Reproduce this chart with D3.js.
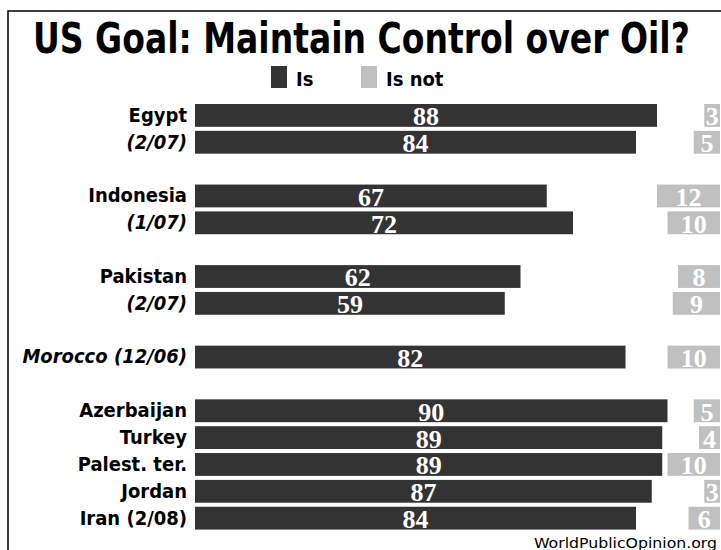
<!DOCTYPE html>
<html><head><meta charset="utf-8">
<script src="https://cdn.jsdelivr.net/npm/d3@7"></script>
<style>body{margin:0;background:#fff}svg{display:block}</style></head>
<body><svg id="c" width="721" height="550"></svg>
<script>
// ---- data ----
const titleText = "US Goal: Maintain Control over Oil?";
const sourceText = "WorldPublicOpinion.org";
const seriesNames = ["Is", "Is not"];
const categories = ["Egypt", "(2/07)", "Indonesia", "(1/07)", "Pakistan", "(2/07)",
  "Morocco (12/06)", "Azerbaijan", "Turkey", "Palest. ter.", "Jordan", "Iran (2/08)"];
const groups = [0, 0, 1, 1, 2, 2, 3, 4, 4, 4, 4, 4];
const isValues = [88, 84, 67, 72, 62, 59, 82, 90, 89, 89, 87, 84];
const isNotValues = [3, 5, 12, 10, 8, 9, 10, 5, 4, 10, 3, 6];

// ---- styling ----
const DARK = "#333333", GREY = "#c0c0c0";
const italicRows = new Set([1, 3, 5, 6]);
const labelFont = "'DejaVu Sans Condensed','Liberation Sans Narrow','DejaVu Sans',sans-serif";
const numFont = "'Liberation Serif','DejaVu Serif',serif";

const svg = d3.select("#c");

// frame
svg.append("path").attr("d", "M8,560 L8,11 L730,11")
  .attr("fill", "none").attr("stroke", "#000").attr("stroke-width", 1.5);

// title: measured, then horizontally fitted to the reference width
const title = svg.append("text").attr("x", 0).attr("y", 0)
  .style("font-family", labelFont).style("font-weight", "bold").style("font-size", "42px")
  .attr("fill", "#000").text(titleText);
const tw = title.node().getComputedTextLength();
title.attr("transform", `translate(33,53) scale(${657 / tw},1)`);

// slots (rows + gaps between groups)
const slots = [];
categories.forEach((c, i) => {
  if (i > 0 && groups[i] !== groups[i - 1]) slots.push("gap" + i);
  slots.push("row" + i);
});
const step = 26.85;
const y = d3.scaleBand().domain(slots).range([104, 104 + step * (slots.length - 0.15)])
  .paddingInner(0.15).paddingOuter(0);
const x = d3.scaleLinear().domain([0, 100]).range([195, 720]);

const rows = categories.map((c, i) => ({ i, label: c, is: isValues[i], not: isNotValues[i], key: "row" + i }));

const g = svg.append("g");
// dark bars
g.selectAll("rect.is").data(rows).join("rect").attr("class", "is")
  .attr("x", x(0)).attr("y", d => y(d.key))
  .attr("width", d => x(d.is) - x(0)).attr("height", y.bandwidth()).attr("fill", DARK);
// grey bars (right aligned)
g.selectAll("rect.not").data(rows).join("rect").attr("class", "not")
  .attr("x", d => x(100 - d.not)).attr("y", d => y(d.key))
  .attr("width", d => x(100) - x(100 - d.not)).attr("height", y.bandwidth()).attr("fill", GREY);

// numbers
g.selectAll("text.isv").data(rows).join("text").attr("class", "isv")
  .attr("x", d => (x(0) + x(d.is)) / 2).attr("y", d => y(d.key) + y.bandwidth() - 1.5)
  .attr("text-anchor", "middle").attr("fill", "#fff")
  .style("font-family", numFont).style("font-weight", "bold").style("font-size", "26px")
  .text(d => d.is);
g.selectAll("text.notv").data(rows).join("text").attr("class", "notv")
  .attr("x", d => (x(100 - d.not) + x(100)) / 2).attr("y", d => y(d.key) + y.bandwidth() - 1.5)
  .attr("text-anchor", "middle").attr("fill", "#fff")
  .style("font-family", numFont).style("font-weight", "bold").style("font-size", "26px")
  .text(d => d.not);

// category labels
g.selectAll("text.lab").data(rows).join("text").attr("class", "lab")
  .attr("x", 187).attr("y", d => y(d.key) + y.bandwidth() - 5)
  .attr("text-anchor", "end").attr("fill", "#000")
  .style("font-family", labelFont).style("font-weight", "bold").style("font-size", "20px")
  .style("font-style", d => italicRows.has(d.i) ? "italic" : "normal")
  .text(d => d.label);

// legend
const legend = [{ name: seriesNames[0], color: DARK, x: 271 }, { name: seriesNames[1], color: GREY, x: 361 }];
const lg = svg.append("g");
lg.selectAll("rect").data(legend).join("rect")
  .attr("x", d => d.x).attr("y", 66).attr("width", 16).attr("height", 22).attr("fill", d => d.color);
lg.selectAll("text").data(legend).join("text")
  .attr("x", d => d.x + 25).attr("y", 86)
  .style("font-family", labelFont).style("font-weight", "bold").style("font-size", "20px")
  .attr("fill", "#000").text(d => d.name);

// source
svg.append("text").attr("x", 717).attr("y", 547.5).attr("text-anchor", "end")
  .attr("textLength", 183).attr("lengthAdjust", "spacingAndGlyphs")
  .style("font-family", "'DejaVu Sans','Open Sans',sans-serif").style("font-size", "14px")
  .attr("fill", "#000").text(sourceText);
</script></body></html>
